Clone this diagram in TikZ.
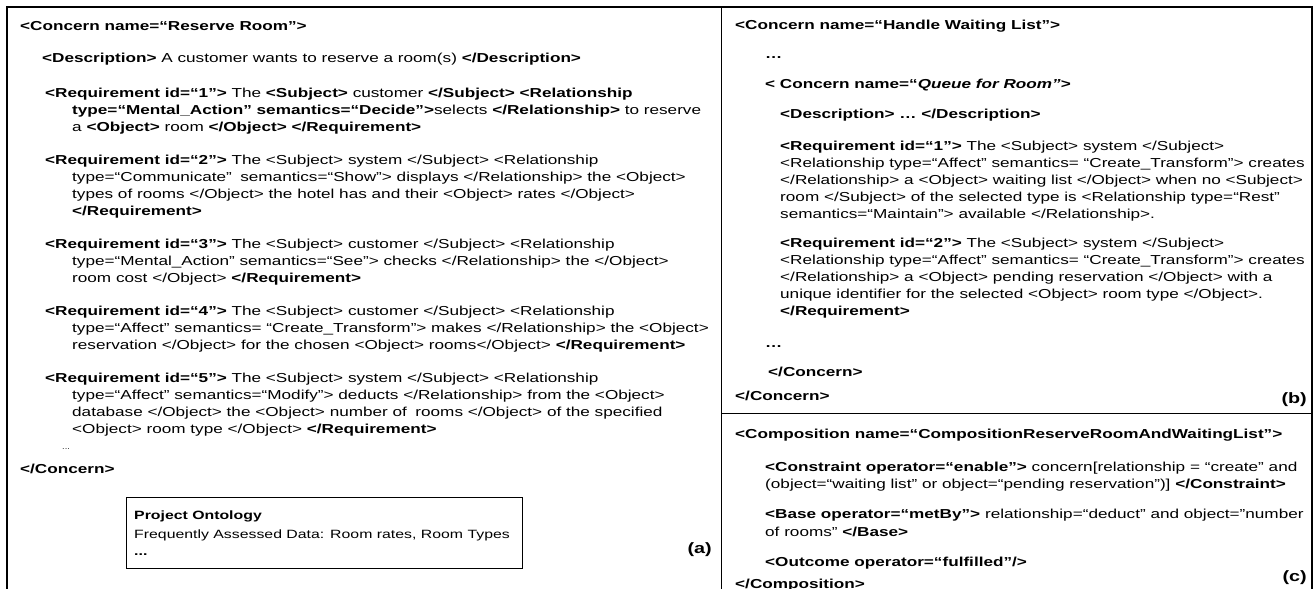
\documentclass[tikz,border=0pt]{standalone}
\usepackage{fontspec}
\setmainfont{Liberation Sans}[FakeStretch=1.32]
\newcommand\bodyfont{\fontsize{13}{17}\selectfont}
\newcommand\tagfont{\bfseries\fontsize{15}{17}\selectfont}
\begin{document}
\begin{tikzpicture}[x=1pt,y=-1pt,
  tx/.style={anchor=base west, inner sep=0pt, font=\bodyfont},
  ont/.style={anchor=base west, inner sep=0pt, font=\fontsize{12}{15}\selectfont},
  tag/.style={anchor=base east, inner sep=0pt, font=\tagfont},
  frame/.style={line width=2.4pt, line join=miter},
  rule/.style={line width=1pt}]
\useasboundingbox (0,0) rectangle (1315,589);

% outer frame and panel dividers
\draw[frame] (7,589) -- (7,7) -- (1312,7) -- (1312,589);
\draw[rule] (721,7) -- (721,589);
\draw[rule] (721,413) -- (1312,413);

% ---- (a) concern "Reserve Room"
\node[tx] (a0) at (20,30) {\textbf{<Concern name=“Reserve Room”>}};
\node[tx] (a1) at (42,62) {\textbf{<Description>} A customer wants to reserve a room(s) \textbf{</Description>}};

\node[tx] (r1a) at (45,97)  {\textbf{<Requirement id=“1”>} The \textbf{<Subject>} customer \textbf{</Subject> <Relationship}};
\node[tx] (r1b) at (72,114) {\textbf{type=“Mental\_Action” semantics=“Decide”>}selects \textbf{</Relationship>} to reserve};
\node[tx] (r1c) at (72,131) {a \textbf{<Object>} room \textbf{</Object> </Requirement>}};

\node[tx] (r2a) at (45,164) {\textbf{<Requirement id=“2”>} The <Subject> system </Subject> <Relationship};
\node[tx] (r2b) at (72,181) {type=“Communicate”\hspace{0.28em} semantics=“Show”> displays </Relationship> the <Object>};
\node[tx] (r2c) at (72,198) {types of rooms </Object> the hotel has and their <Object> rates </Object>};
\node[tx] (r2d) at (72,215) {\textbf{</Requirement>}};

\node[tx] (r3a) at (45,248) {\textbf{<Requirement id=“3”>} The <Subject> customer </Subject> <Relationship};
\node[tx] (r3b) at (72,265) {type=“Mental\_Action” semantics=“See”> checks </Relationship> the </Object>};
\node[tx] (r3c) at (72,282) {room cost </Object> \textbf{</Requirement>}};

\node[tx] (r4a) at (45,315) {\textbf{<Requirement id=“4”>} The <Subject> customer </Subject> <Relationship};
\node[tx] (r4b) at (72,332) {type=“Affect” semantics= “Create\_Transform”> makes </Relationship> the <Object>};
\node[tx] (r4c) at (72,349) {reservation </Object> for the chosen <Object> rooms</Object> \textbf{</Requirement>}};

\node[tx] (r5a) at (45,382) {\textbf{<Requirement id=“5”>} The <Subject> system </Subject> <Relationship};
\node[tx] (r5b) at (72,399) {type=“Affect” semantics=“Modify”> deducts </Relationship> from the <Object>};
\node[tx] (r5c) at (72,416) {database </Object> the <Object> number of\hspace{0.28em} rooms </Object> of the specified};
\node[tx] (r5d) at (72,433) {<Object> room type </Object> \textbf{</Requirement>}};

\node[tx, font=\fontsize{7}{8}\selectfont] (a2) at (62,449) {...};
\node[tx] (a3) at (20,473) {\textbf{</Concern>}};

% project ontology box
\node[draw, line width=0.8pt, anchor=north west, minimum width=396pt, minimum height=71pt, inner sep=0pt] (onto) at (126,497) {};
\node[ont] (o1) at (134,519) {\textbf{Project Ontology}};
\node[ont] (o2) at (134,538) {Frequently Assessed Data: Room rates, Room Types};
\node[ont] (o3) at (134,555) {\textbf{...}};

\node[tag] (la) at (712,553) {(a)};

% ---- (b) concern "Handle Waiting List"
\node[tx] (b0) at (735,29)  {\textbf{<Concern name=“Handle Waiting List”>}};
\node[tx] (b1) at (765,58)  {\textbf{…}};
\node[tx] (b2) at (765,88)  {\textbf{< Concern name=“\textit{Queue for Room”}>}};
\node[tx] (b3) at (780,118) {\textbf{<Description> … </Description>}};

\node[tx] (q1a) at (780,150) {\textbf{<Requirement id=“1”>} The <Subject> system </Subject>};
\node[tx] (q1b) at (780,167) {<Relationship type=“Affect” semantics= “Create\_Transform”> creates};
\node[tx] (q1c) at (780,184) {</Relationship> a <Object> waiting list </Object> when no <Subject>};
\node[tx] (q1d) at (780,201) {room </Subject> of the selected type is <Relationship type=“Rest”};
\node[tx] (q1e) at (780,218) {semantics=“Maintain”> available </Relationship>.};

\node[tx] (q2a) at (780,247) {\textbf{<Requirement id=“2”>} The <Subject> system </Subject>};
\node[tx] (q2b) at (780,264) {<Relationship type=“Affect” semantics= “Create\_Transform”> creates};
\node[tx] (q2c) at (780,281) {</Relationship> a <Object> pending reservation </Object> with a};
\node[tx] (q2d) at (780,298) {unique identifier for the selected <Object> room type </Object>.};
\node[tx] (q2e) at (780,315) {\textbf{</Requirement>}};

\node[tx] (b4) at (765,347) {\textbf{…}};
\node[tx] (b5) at (768,376) {\textbf{</Concern>}};
\node[tx] (b6) at (735,400) {\textbf{</Concern>}};
\node[tag] (lb) at (1307,403) {(b)};

% ---- (c) composition
\node[tx] (c0) at (735,438) {\textbf{<Composition name=“CompositionReserveRoomAndWaitingList”>}};
\node[tx] (c1) at (765,471) {\textbf{<Constraint operator=“enable”>} concern[relationship = “create” and};
\node[tx] (c2) at (765,488) {(object=“waiting list” or object=“pending reservation”)] \textbf{</Constraint>}};
\node[tx] (c3) at (765,518) {\textbf{<Base operator=“metBy”>} relationship=“deduct” and object=”number};
\node[tx] (c4) at (765,536) {of rooms” \textbf{</Base>}};
\node[tx] (c5) at (765,566) {\textbf{<Outcome operator=“fulfilled”/>}};
\node[tx] (c6) at (735,588) {\textbf{</Composition>}};
\node[tag] (lc) at (1307,581) {(c)};
\end{tikzpicture}
\end{document}
